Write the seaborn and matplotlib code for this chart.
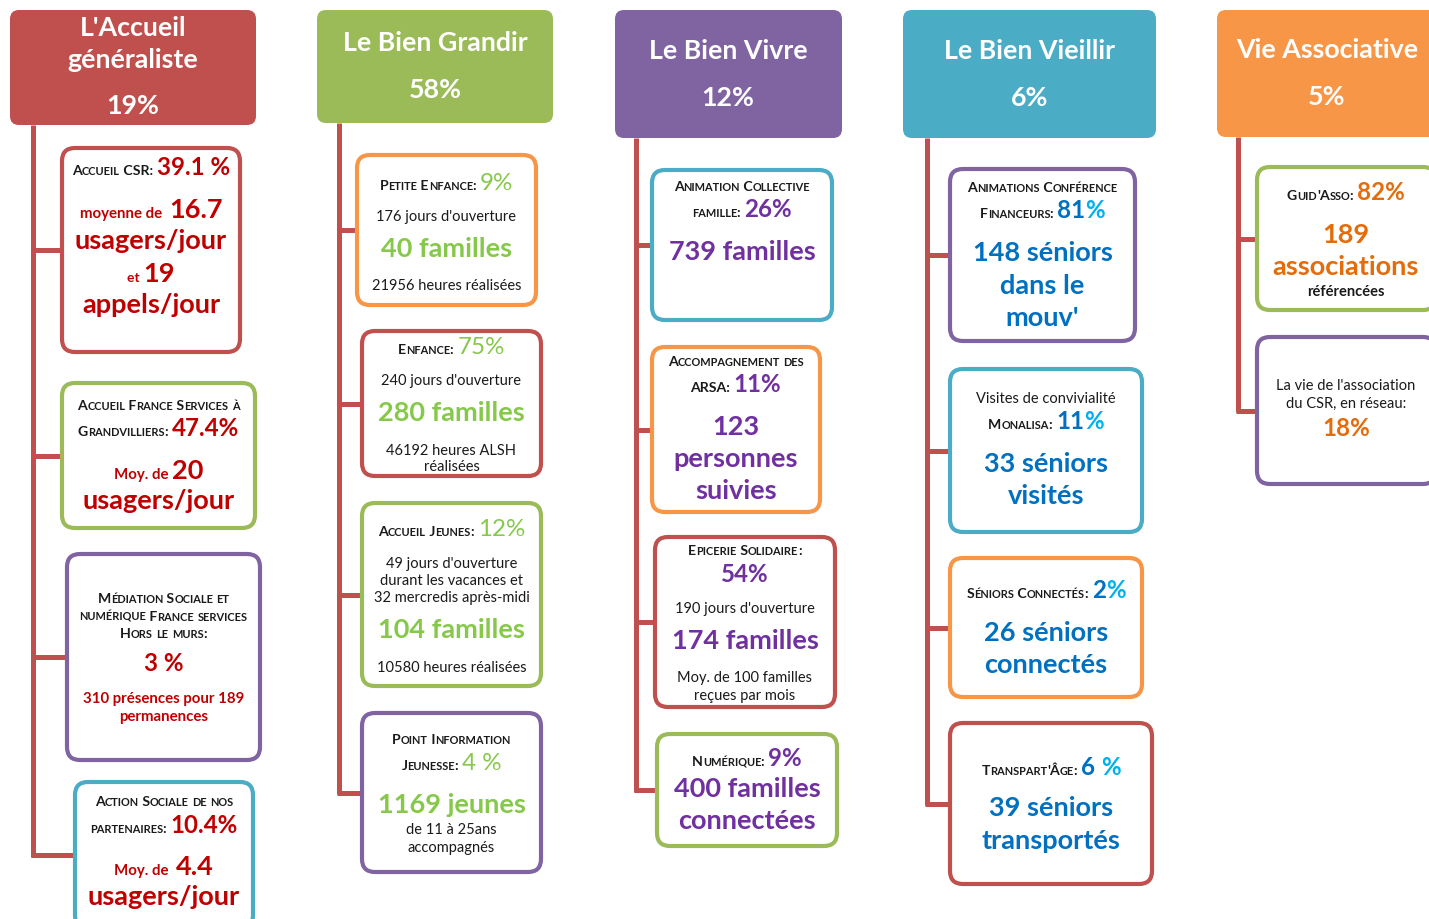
import matplotlib
matplotlib.use("Agg")
import matplotlib.pyplot as plt
from matplotlib.patches import FancyBboxPatch
import seaborn as sns

sns.set_theme(style="white")
plt.rcParams['font.family'] = ['Lato', 'DejaVu Sans']

RED, GREEN, PURPLE, TEAL, ORANGE = sns.color_palette(
    ["#C0504D", "#9BBB59", "#8064A2", "#4BACC6", "#F79646"])

# --- data -------------------------------------------------------------
headers = [["L'Accueil", "généraliste"], ["Le Bien Grandir"], ["Le Bien Vivre"],
           ["Le Bien Vieillir"], ["Vie Associative"]]
shares = ["19%", "58%", "12%", "6%", "5%"]
header_colours = [RED, GREEN, PURPLE, TEAL, ORANGE]
accent = ["#C00000", "#86C94A", "#7030A0", "#0070C0", "#E46C0A"]
accent2 = ["#C00000", "#86C94A", "#7030A0", "#00B0F0", "#E46C0A"]

accueil = [
    [[("Accueil CSR: ", "sc"), ("39.1 %", "pct")],
     [("moyenne de  ", "mid"), ("16.7", "big")],
     [("usagers/jour", "big")],
     [("et ", "smid"), ("19", "big")],
     [("appels/jour", "big")]],
    [[("Accueil France Services à", "sc")],
     [("Grandvilliers: ", "sc"), ("47.4%", "pct")],
     [("Moy. de ", "mid"), ("20", "big")],
     [("usagers/jour", "big")]],
    [[("Médiation Sociale et", "sc")],
     [("numérique France services", "sc")],
     [("Hors le murs:", "sc")],
     [("3 %", "pct")],
     [("310 présences pour 189", "mid")],
     [("permanences", "mid")]],
    [[("Action Sociale de nos", "sc")],
     [("partenaires: ", "sc"), ("10.4%", "pct")],
     [("Moy. de  ", "mid"), ("4.4", "big")],
     [("usagers/jour", "big")]],
]
grandir = [
    [[("Petite Enfance: ", "sc"), ("9%", "pctl")],
     [("176 jours d'ouverture", "txt")],
     [("40 familles", "big")],
     [("21956 heures réalisées", "txt")]],
    [[("Enfance: ", "sc"), ("75%", "pctl")],
     [("240 jours d'ouverture", "txt")],
     [("280 familles", "big")],
     [("46192 heures ALSH", "txt")],
     [("réalisées", "txt")]],
    [[("Accueil Jeunes: ", "sc"), ("12%", "pctl")],
     [("49 jours d'ouverture", "txt")],
     [("durant les vacances et", "txt")],
     [("32 mercredis après-midi", "txt")],
     [("104 familles", "big")],
     [("10580 heures réalisées", "txt")]],
    [[("Point Information", "sc")],
     [("Jeunesse: ", "sc"), ("4 %", "pctl")],
     [("1169 jeunes", "big")],
     [("de 11 à 25ans", "txt")],
     [("accompagnés", "txt")]],
]
vivre = [
    [[("Animation Collective", "sc")],
     [("famille: ", "sc"), ("26%", "pct")],
     [("739 familles", "big")]],
    [[("Accompagnement des", "sc")],
     [("ARSA: ", "sc"), ("11%", "pct")],
     [("123", "big")],
     [("personnes", "big")],
     [("suivies", "big")]],
    [[("Epicerie Solidaire:", "sc")],
     [("54%", "pct")],
     [("190 jours d'ouverture", "txt")],
     [("174 familles", "big")],
     [("Moy. de 100 familles", "txt")],
     [("reçues par mois", "txt")]],
    [[("Numérique: ", "sc"), ("9%", "pct")],
     [("400 familles", "big")],
     [("connectées", "big")]],
]
vieillir = [
    [[("Animations Conférence", "sc")],
     [("Financeurs: ", "sc"), ("81", "pct"), ("%", "pct2")],
     [("148 séniors", "big")],
     [("dans le", "big")],
     [("mouv'", "big")]],
    [[("Visites de convivialité", "txt")],
     [("Monalisa: ", "sc"), ("11", "pct"), ("%", "pct2")],
     [("33 séniors", "big")],
     [("visités", "big")]],
    [[("Séniors Connectés: ", "sc"), ("2", "pct"), ("%", "pct2")],
     [("26 séniors", "big")],
     [("connectés", "big")]],
    [[("Transpart'Âge: ", "sc"), ("6 ", "pct"), ("%", "pct2")],
     [("39 séniors", "big")],
     [("transportés", "big")]],
]
associative = [
    [[("Guid'Asso: ", "sc"), ("82%", "pct")],
     [("189", "big")],
     [("associations", "big")],
     [("référencées", "ref")]],
    [[("La vie de l'association", "txt")],
     [("du CSR, en réseau:", "txt")],
     [("18%", "pct")]],
]
contents = [accueil, grandir, vivre, vieillir, associative]

# --- layout (pixels) --------------------------------------------------
header_rects = [(10, 10, 256, 125), (317, 10, 553, 123), (615, 10, 842, 138),
                (903, 10, 1156, 138), (1217, 10, 1445, 137)]
header_cx = [133, 435, 728, 1030, 1327]
header_base = [[36, 68, 114], [51, 98], [59, 106], [59, 106], [58, 105]]
stem_x = [33, 339, 636, 927, 1238]
box_rects = [
    [(62, 148, 240, 352), (62, 383, 255, 528), (67, 554, 260, 760), (75, 782, 253, 928)],
    [(357, 155, 536, 305), (362, 331, 541, 476), (362, 503, 541, 686), (362, 713, 541, 872)],
    [(652, 170, 832, 320), (652, 347, 820, 512), (655, 537, 835, 707), (657, 734, 837, 846)],
    [(950, 169, 1135, 341), (950, 369, 1142, 532), (950, 558, 1142, 697), (950, 723, 1152, 884)],
    [(1257, 167, 1436, 310), (1257, 337, 1436, 484)],
]
box_edges = [[RED, GREEN, PURPLE, TEAL], [ORANGE, RED, GREEN, PURPLE],
             [TEAL, ORANGE, RED, GREEN], [PURPLE, TEAL, ORANGE, RED], [GREEN, PURPLE]]
line_base = [
    [[175, 218, 249, 282, 313], [410, 436, 479, 509], [603, 621, 638, 671, 703, 721],
     [806, 833, 875, 905]],
    [[190, 221, 257, 290], [354, 385, 421, 455, 471], [536, 568, 585, 602, 638, 672],
     [744, 770, 813, 834, 852]],
    [[191, 217, 260], [366, 392, 435, 467, 499], [555, 582, 613, 649, 682, 700],
     [766, 797, 829]],
    [[192, 218, 261, 294, 326], [403, 429, 472, 504], [598, 641, 673], [775, 816, 849]],
    [[200, 243, 275, 296], [390, 408, 436]],
]

styles = {
    "sc":   dict(size=10.2, weight="bold", color="k", sc=True),
    "txt":  dict(size=10.5, weight="normal", color="#1a1a1a"),
    "ref":  dict(size=10.5, weight="bold", color="#1a1a1a"),
    "big":  dict(size=19.5, weight="bold", color="a"),
    "pct":  dict(size=17.4, weight="bold", color="a"),
    "pct2": dict(size=17.4, weight="bold", color="a2"),
    "pctl": dict(size=17.4, weight="normal", color="a"),
    "mid":  dict(size=10.8, weight="bold", color="a"),
    "smid": dict(size=10.0, weight="bold", color="a"),
}

fig = plt.figure(figsize=(14.29, 9.19), dpi=100)
ax = fig.add_axes([0, 0, 1, 1])
ax.set_xlim(0, 1429)
ax.set_ylim(919, 0)
ax.axis("off")
renderer = fig.canvas.get_renderer()


def text_width(s, size, weight):
    t = ax.text(0, 0, "|" + s + "|", fontsize=size, fontweight=weight)
    w = t.get_window_extent(renderer).width
    t.set_text("||")
    w -= t.get_window_extent(renderer).width
    t.remove()
    return w


def split_runs(txt, st, col):
    colour = {"a": accent[col], "a2": accent2[col]}.get(st["color"], st["color"])
    if not st.get("sc"):
        return [(txt, st["size"], st["weight"], colour)]
    runs = []
    for ch in txt:
        small = ch.islower()
        size = st["size"] * (0.78 if small else 1.0)
        c = ch.upper() if small else ch
        if runs and runs[-1][1] == size:
            runs[-1] = (runs[-1][0] + c, size, st["weight"], colour)
        else:
            runs.append((c, size, st["weight"], colour))
    return runs


def draw_line(cx, y, segs, col):
    runs = []
    for txt, key in segs:
        runs += split_runs(txt, styles[key], col)
    widths = [text_width(r[0], r[1], r[2]) for r in runs]
    x = cx - sum(widths) / 2
    for (s, size, weight, colour), w in zip(runs, widths):
        ax.text(x, y, s, fontsize=size, fontweight=weight, color=colour,
                ha="left", va="baseline", zorder=3)
        x += w


for c in range(len(headers)):
    x0, y0, x1, y1 = header_rects[c]
    ax.add_patch(FancyBboxPatch((x0, y0), x1 - x0, y1 - y0,
                                boxstyle="round,pad=0,rounding_size=9",
                                fc=header_colours[c], ec="none", zorder=1))
    for txt, yb in zip(headers[c] + [shares[c]], header_base[c]):
        ax.text(header_cx[c], yb, txt, fontsize=19.3, fontweight="bold", color="white",
                ha="center", va="baseline", zorder=3)

    # connectors
    sx = stem_x[c]
    mids = [(r[1] + r[3]) / 2 for r in box_rects[c]]
    ax.plot([sx, sx], [y1, mids[-1] + 1.8], color=RED, lw=3.6, solid_capstyle="butt", zorder=0)
    for r, m in zip(box_rects[c], mids):
        ax.plot([sx - 1.8, r[0]], [m, m], color=RED, lw=3.6, solid_capstyle="butt", zorder=0)

    for b, (bx0, by0, bx1, by1) in enumerate(box_rects[c]):
        ax.add_patch(FancyBboxPatch((bx0, by0), bx1 - bx0, by1 - by0,
                                    boxstyle="round,pad=0,rounding_size=13",
                                    fc="white", ec=box_edges[c][b], lw=3.0, zorder=2))
        bcx = (bx0 + bx1) / 2 if c < 4 else 1346
        for segs, yb in zip(contents[c][b], line_base[c][b]):
            draw_line(bcx, yb, segs, c)

fig.savefig("out.png", dpi=100)
